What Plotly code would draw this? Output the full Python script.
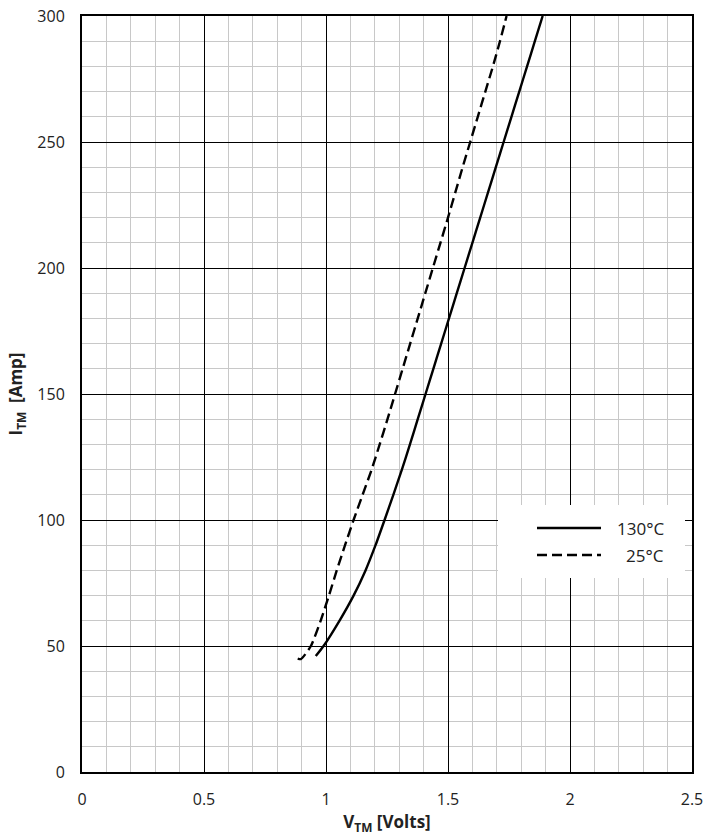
import plotly.graph_objects as go

# 130°C curve (solid)
v_130 = [0.958, 0.990, 1.055, 1.113, 1.162, 1.203, 1.240, 1.276, 1.311, 1.344, 1.376, 1.408,
         1.440, 1.472, 1.504, 1.536, 1.568, 1.600, 1.632, 1.664, 1.696, 1.728, 1.760, 1.792,
         1.824, 1.856, 1.888]
i_130 = [46, 50, 60, 70, 80, 90, 100, 110, 120, 130, 140, 150,
         160, 170, 180, 190, 200, 210, 220, 230, 240, 250, 260, 270,
         280, 290, 300]

# 25°C curve (dashed)
v_25 = [0.884, 0.897, 0.938, 0.978, 1.012, 1.044, 1.078, 1.113, 1.150, 1.187, 1.220, 1.252,
        1.283, 1.314, 1.345, 1.376, 1.407, 1.438, 1.469, 1.500, 1.530, 1.560, 1.591, 1.622,
        1.653, 1.684, 1.713, 1.740]
i_25 = [45, 44.8, 50, 60, 70, 80, 90, 100, 110, 120, 130, 140,
        150, 160, 170, 180, 190, 200, 210, 220, 230, 240, 250, 260,
        270, 280, 290, 300]

series_names = ["130°C", "25°C"]

x_ticks = [0, 0.5, 1, 1.5, 2, 2.5]
x_labels = ["0", "0.5", "1", "1.5", "2", "2.5"]
y_ticks = [0, 50, 100, 150, 200, 250, 300]

FONT = "Open Sans, Liberation Sans, sans-serif"
TXT = "#222"

fig = go.Figure()
fig.add_trace(go.Scatter(x=v_130, y=i_130, mode="lines", name=series_names[0],
                         line=dict(color="black", width=2.4, shape="spline", smoothing=0.6),
                         showlegend=False))
fig.add_trace(go.Scatter(x=v_25, y=i_25, mode="lines", name=series_names[1],
                         line=dict(color="black", width=2.4, dash="10px,5px",
                                   shape="spline", smoothing=0.6),
                         showlegend=False))

# Legend drawn in paper coordinates of the plot area
def px(xpix):
    return (xpix - 82) / 610.0

def py(ypix):
    return (772 - ypix) / 756.0

shapes = [
    dict(type="rect", xref="paper", yref="paper", x0=px(498), x1=px(685),
         y0=py(578), y1=py(505), fillcolor="white", line=dict(width=0), layer="above"),
    dict(type="line", xref="paper", yref="paper", x0=px(537), x1=px(601),
         y0=py(528), y1=py(528), line=dict(color="black", width=2.4), layer="above"),
    dict(type="line", xref="paper", yref="paper", x0=px(537), x1=px(601),
         y0=py(555), y1=py(555), line=dict(color="black", width=2.4, dash="10px,5px"),
         layer="above"),
]
annotations = [
    dict(xref="paper", yref="paper", x=px(666), y=py(528), text=series_names[0],
         xanchor="right", yanchor="middle", showarrow=False,
         font=dict(size=17, color=TXT, family=FONT)),
    dict(xref="paper", yref="paper", x=px(666), y=py(555), text=series_names[1],
         xanchor="right", yanchor="middle", showarrow=False,
         font=dict(size=17, color=TXT, family=FONT)),
]

fig.update_layout(
    width=704, height=835,
    margin=dict(l=82, r=12, t=16, b=63),
    paper_bgcolor="white", plot_bgcolor="white",
    font=dict(family=FONT, size=16, color=TXT),
    showlegend=False,
    shapes=shapes,
    annotations=annotations,
    xaxis=dict(range=[0, 2.5], tickvals=x_ticks, ticktext=x_labels,
               showgrid=True, gridcolor="black", gridwidth=1,
               minor=dict(dtick=0.1, showgrid=True, gridcolor="#c8c8c8", gridwidth=1),
               showline=True, linecolor="black", linewidth=2, mirror=True,
               ticks="", ticklabelstandoff=12, zeroline=False, automargin=False,
               title=dict(text="<b>V<sub>TM</sub> [Volts]</b>", standoff=8,
                          font=dict(size=17))),
    yaxis=dict(range=[0, 300], tickvals=y_ticks,
               showgrid=True, gridcolor="black", gridwidth=1,
               minor=dict(dtick=10, showgrid=True, gridcolor="#c8c8c8", gridwidth=1),
               showline=True, linecolor="black", linewidth=2, mirror=True,
               ticks="", ticklabelstandoff=12, zeroline=False, automargin=False,
               title=dict(text="<b>I<sub>TM</sub>  [Amp]</b>", standoff=10,
                          font=dict(size=17))),
)

fig.write_html("out.html")
